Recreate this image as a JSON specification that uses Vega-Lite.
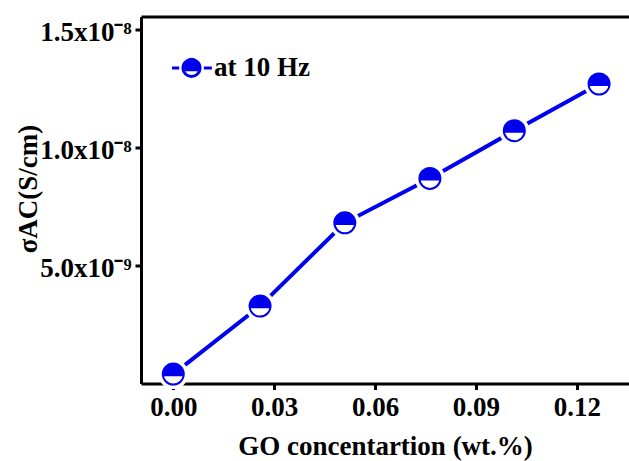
{
  "$schema": "https://vega.github.io/schema/vega-lite/v6.json",
  "width": 488,
  "height": 367,
  "autosize": "none",
  "padding": {"left": 141, "top": 16.5, "right": 0, "bottom": 77.5},
  "background": "white",
  "config": {
    "view": {"stroke": null},
    "font": "Liberation Serif",
    "axis": {
      "labelFont": "Liberation Serif", "titleFont": "Liberation Serif",
      "labelFontWeight": "bold", "titleFontWeight": "bold",
      "labelFontSize": 27, "titleFontSize": 27,
      "labelColor": "black", "titleColor": "black",
      "domainColor": "black", "domainWidth": 3,
      "tickColor": "black", "tickWidth": 3, "tickSize": 6,
      "grid": false, "zindex": 1
    }
  },
  "data": {
    "values": [
      {"go": 0.0, "sigma": 4.0e-10},
      {"go": 0.0258, "sigma": 3.28e-9},
      {"go": 0.051, "sigma": 6.81e-9},
      {"go": 0.0763, "sigma": 8.69e-9},
      {"go": 0.1014, "sigma": 1.071e-8},
      {"go": 0.1266, "sigma": 1.269e-8}
    ]
  },
  "encoding": {
    "y": {
      "field": "sigma", "type": "quantitative",
      "scale": {"domain": [0, 1.555e-8], "nice": false},
      "axis": {
        "values": [5e-9, 1e-8, 1.5e-8],
        "labelExpr": "datum.value < 7e-9 ? '5.0x10⁻⁹' : (datum.value < 1.2e-8 ? '1.0x10⁻⁸' : '1.5x10⁻⁸')",
        "labelPadding": 4, "labelOffset": 3, "labelFlush": false,
        "title": "σAC(S/cm)",
        "titleX": -113, "titleY": 172, "titleAngle": -90,
        "titleBaseline": "middle", "titleAlign": "center"
      }
    }
  },
  "layer": [
    {
      "mark": {"type": "line", "strokeWidth": 4},
      "encoding": {
        "x": {
          "field": "go", "type": "quantitative",
          "scale": {"domain": [-0.0096, 0.1355], "nice": false, "zero": false},
          "axis": {
            "values": [0, 0.03, 0.06, 0.09, 0.12], "format": ".2f",
            "labelPadding": 5, "labelFlush": false,
            "title": "GO concentartion (wt.%)",
            "titleBaseline": "alphabetic", "titleY": 71, "titleX": 244
          }
        },
        "color": {
          "datum": "at 10 Hz",
          "scale": {"range": ["#0000ee"]},
          "legend": {
            "title": null,
            "orient": "none",
            "legendX": 37, "legendY": 38,
            "padding": 0,
            "symbolType": "M-0.98,0.2A1,1,0,1,1,0.98,0.2Z M1,0A1,1,0,0,1,-1,0A1,1,0,0,0,1,0 M-2.3,0L-1.45,0 M1.45,0L2.4,0",
            "symbolSize": 289,
            "symbolFillColor": "#0000ee",
            "symbolStrokeColor": "#0000ee",
            "symbolStrokeWidth": 3,
            "labelFont": "Liberation Serif",
            "labelFontWeight": "bold",
            "labelFontSize": 27,
            "labelColor": "black",
            "labelOffset": 9
          }
        }
      }
    },
    {
      "mark": {"type": "point", "shape": "circle", "filled": true, "fill": "white", "strokeWidth": 0, "size": 900, "opacity": 1},
      "encoding": {"x": {"field": "go", "type": "quantitative", "axis": null}}
    },
    {
      "mark": {"type": "point", "shape": "circle", "filled": true, "fill": "white", "stroke": "#0000ee", "strokeWidth": 2, "size": 441, "opacity": 1},
      "encoding": {"x": {"field": "go", "type": "quantitative", "axis": {"orient": "top", "labels": false, "ticks": false, "title": null, "values": []}}}
    },
    {
      "mark": {"type": "point", "shape": "M-0.98,0.2A1,1,0,1,1,0.98,0.2Z", "filled": true, "fill": "#0000ee", "strokeWidth": 0, "size": 441, "opacity": 1},
      "encoding": {"x": {"field": "go", "type": "quantitative", "axis": null}}
    }
  ],
  "resolve": {"axis": {"x": "independent"}}
}
